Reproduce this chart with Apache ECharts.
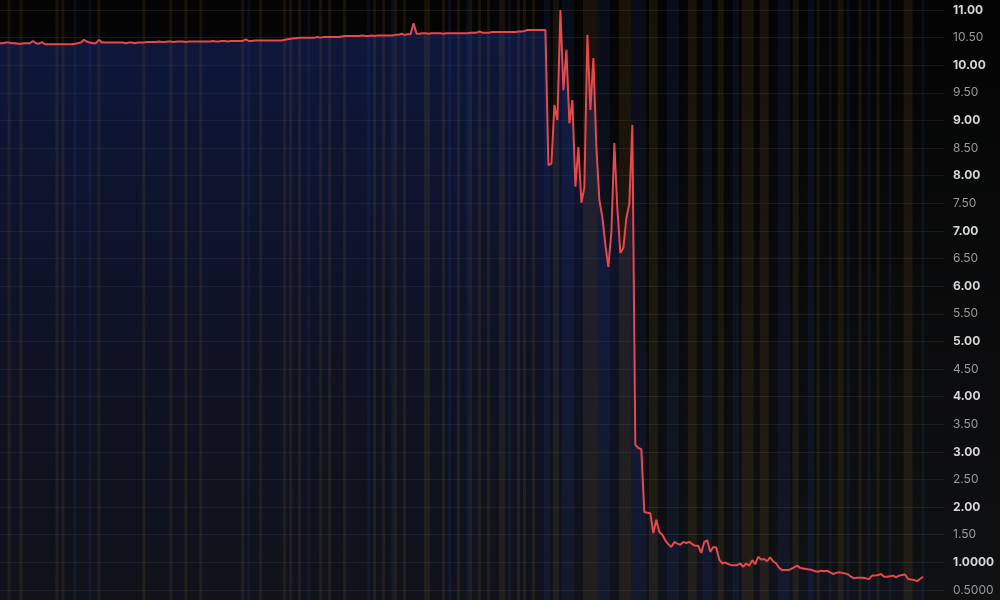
<!DOCTYPE html>
<html>
<head>
<meta charset="utf-8">
<script src="https://cdn.jsdelivr.net/npm/echarts@6/dist/echarts.min.js"></script>
<style>
html,body{margin:0;padding:0;background:#000;}
#c{width:1000px;height:600px;background:linear-gradient(#040404,#101113);}
</style>
</head>
<body>
<div id="c"></div>
<script>
// price series (one value per period)
const prices = [
10.40,10.40,10.41,10.41,10.40,10.40,10.39,10.39,10.40,10.40,
10.40,10.44,10.40,10.39,10.42,10.38,10.38,10.38,10.38,10.38,
10.38,10.38,10.38,10.38,10.38,10.39,10.40,10.41,10.46,10.43,
10.41,10.40,10.40,10.46,10.41,10.41,10.41,10.41,10.41,10.41,
10.41,10.41,10.40,10.41,10.41,10.40,10.41,10.41,10.41,10.42,
10.42,10.42,10.42,10.43,10.42,10.42,10.43,10.43,10.42,10.43,
10.43,10.43,10.42,10.43,10.43,10.43,10.43,10.43,10.43,10.43,
10.43,10.44,10.43,10.43,10.44,10.44,10.43,10.44,10.44,10.44,
10.44,10.44,10.47,10.44,10.44,10.45,10.45,10.45,10.45,10.45,
10.45,10.45,10.45,10.45,10.45,10.46,10.47,10.48,10.49,10.49,
10.50,10.50,10.50,10.50,10.50,10.50,10.51,10.50,10.51,10.51,
10.51,10.51,10.51,10.51,10.52,10.53,10.53,10.53,10.53,10.53,
10.53,10.54,10.53,10.53,10.54,10.53,10.54,10.54,10.54,10.54,
10.54,10.54,10.55,10.55,10.57,10.55,10.56,10.56,10.76,10.57,
10.57,10.58,10.58,10.57,10.58,10.58,10.58,10.58,10.57,10.58,
10.58,10.58,10.58,10.58,10.58,10.58,10.58,10.59,10.59,10.59,
10.61,10.59,10.59,10.59,10.60,10.60,10.60,10.60,10.60,10.60,
10.60,10.60,10.60,10.61,10.61,10.62,10.64,10.64,10.64,10.64,
10.64,10.64,10.64,8.19,8.22,9.28,9.01,11.00,9.55,10.28,
8.95,9.37,7.80,8.52,7.51,7.79,10.55,9.19,10.13,8.52,
7.56,7.25,6.75,6.35,6.98,8.59,7.42,6.60,6.69,7.23,
7.50,8.92,3.13,3.07,3.05,1.91,1.90,1.89,1.53,1.77,
1.55,1.50,1.40,1.33,1.28,1.37,1.34,1.32,1.37,1.35,
1.37,1.33,1.30,1.30,1.17,1.37,1.40,1.19,1.28,1.27,
1.05,0.98,1.00,0.97,0.95,0.95,0.95,0.98,0.92,0.98,
0.94,1.04,0.97,1.10,1.05,1.06,1.02,1.09,1.02,0.98,
0.90,0.86,0.86,0.86,0.88,0.91,0.94,0.90,0.89,0.88,
0.87,0.86,0.84,0.83,0.85,0.84,0.85,0.82,0.79,0.81,
0.82,0.81,0.80,0.78,0.74,0.71,0.72,0.72,0.72,0.71,
0.70,0.76,0.76,0.77,0.79,0.74,0.74,0.75,0.76,0.73,
0.76,0.77,0.78,0.70,0.69,0.68,0.66,0.70,0.74
];
// empty periods after the last price (right margin of the time axis)
const emptyPeriods = 7;
// periods highlighted with warm / cool background bands
const warmBands = [3,7,19,21,33,48,57,62,67,81,87,95,97,100,107,110,115,125,128,132,135,142,143,148,153,157,160,163,167,168,173,175,178,
185,186,195,196,197,198,199,207,208,209,210,217,218,219,230,231,232,240,241,248,249,250,251,254,255,256,265,266,273,280,281,287,293,302,303,304];
const coolBands = [25,30,83,103,123,131,150,156,170,182,183,188,189,190,191,200,201,202,203,211,212,213,214,215,223,224,225,226,235,236,237,245,246,
260,261,262,263,270,271,277,283,290,297,308];
const yMin = 0, yMax = 11.5, yStep = 0.5;

const total = prices.length + emptyPeriods;
const categories = [];
for (let i = 0; i < total; i++) categories.push(String(i));
const lineData = prices.concat(new Array(emptyPeriods).fill(null));
const warmSet = new Set(warmBands), coolSet = new Set(coolBands);
const bandData = categories.map((c, i) => {
  if (warmSet.has(i)) return {value: 1, itemStyle: {color: 'rgba(210,150,50,0.10)'}};
  if (coolSet.has(i)) return {value: 1, itemStyle: {color: 'rgba(60,100,220,0.10)'}};
  return null;
});

function fmt(v) {
  const s = v <= 1 ? v.toFixed(4) : v.toFixed(2);
  return Math.abs(v - Math.round(v)) < 1e-9 ? '{b|' + s + '}' : '{n|' + s + '}';
}

const chart = echarts.init(document.getElementById('c'), null, {renderer: 'canvas'});
chart.setOption({
  backgroundColor: 'transparent',
  animation: false,
  grid: {left: 0, right: 56, top: -17.6, bottom: -17.6, containLabel: false, outerBoundsMode: 'none'},
  xAxis: {
    type: 'category', data: categories, boundaryGap: false,
    axisLine: {show: false}, axisTick: {show: false}, axisLabel: {show: false}, splitLine: {show: false}
  },
  yAxis: [{
    type: 'value', position: 'right', min: yMin, max: yMax, interval: yStep,
    axisLine: {show: false}, axisTick: {show: false},
    splitLine: {show: true, lineStyle: {color: 'rgba(255,255,255,0.07)', width: 1}},
    axisLabel: {
      margin: 9, showMinLabel: false, showMaxLabel: false,
      formatter: fmt,
      rich: {
        b: {fontFamily: 'Inter', fontSize: 12, fontWeight: 'bold', color: '#d6d6d6'},
        n: {fontFamily: 'Inter', fontSize: 12, color: '#9a9a9a'}
      }
    }
  }, {
    type: 'value', min: 0, max: 1, show: false
  }],
  series: [{
    type: 'line', data: lineData, z: 1, symbol: 'none', silent: true,
    lineStyle: {width: 0},
    areaStyle: {color: new echarts.graphic.LinearGradient(0, 0, 0, 1, [
      {offset: 0, color: 'rgba(26,44,120,0.72)'},
      {offset: 1, color: 'rgba(20,28,60,0.25)'}
    ])}
  }, {
    type: 'bar', data: bandData, yAxisIndex: 1, z: 2, barWidth: '100%', barGap: '-100%', silent: true
  }, {
    type: 'line', data: lineData, z: 3, symbol: 'none',
    lineStyle: {color: '#e5484d', width: 2}
  }]
});
</script>
</body>
</html>
